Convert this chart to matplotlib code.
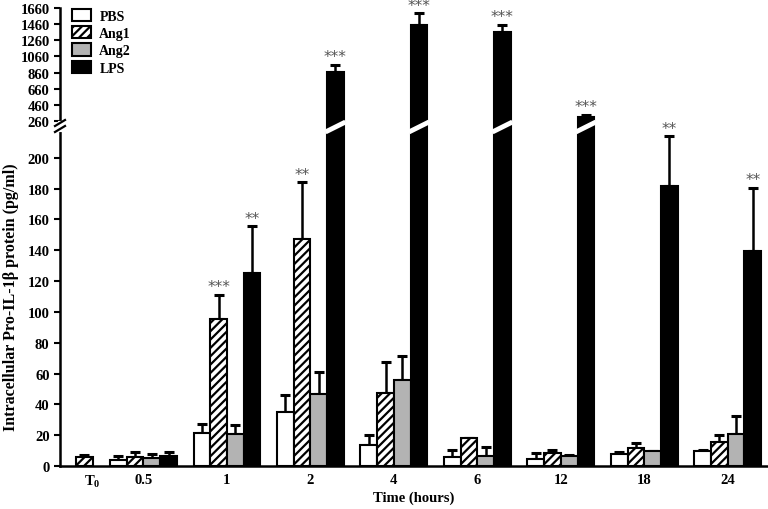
import numpy as np
import matplotlib
matplotlib.use("Agg")
import matplotlib.pyplot as plt
import matplotlib.transforms as mtransforms

plt.rcParams['font.family'] = ['Liberation Serif', 'DejaVu Serif']
plt.rcParams['font.weight'] = 'bold'
plt.rcParams['mathtext.fontset'] = 'custom'
plt.rcParams['mathtext.rm'] = 'Liberation Serif:bold'
plt.rcParams['mathtext.bf'] = 'Liberation Serif:bold'
plt.rcParams['hatch.linewidth'] = 1.6

# data (pg/ml)
times = [r'$\mathbf{T_0}$', '0.5', '1', '2', '4', '6', '12', '18', '24']
nan = np.nan
pbs = [nan, 3.9, 21.2, 34.8, 13.6, 5.6, 4.5, 7.8, 9.5]
pbs_err = [nan, 2.8, 6.1, 11.3, 6.7, 4.8, 3.9, 1.5, 1.1]
ang1 = [6.0, 6.0, 95.5, 147, 47.4, 18.0, 8.4, 11.9, 15.8]
ang1_err = [1.1, 2.9, 15.5, 37, 19.9, 0.4, 2.0, 2.8, 4.5]
ang2 = [nan, 5.2, 20.8, 46.8, 55.8, 6.3, 6.7, 9.5, 20.8]
ang2_err = [nan, 2.6, 6.0, 14.4, 15.8, 6.2, 0.3, 0.4, 11.5]
lps = [nan, 6.7, 125.3, 862, 1452, 1358, 305, 182, 139.6]
lps_err = [nan, 2.2, 30.3, 95, 142, 95, 28, 32, 41]
stars = {('Ang1', 2): '***', ('LPS', 2): '**', ('Ang1', 3): '**',
         ('LPS', 3): '***', ('LPS', 4): '***', ('LPS', 5): '***',
         ('LPS', 6): '***', ('LPS', 7): '**', ('LPS', 8): '**'}

series = [
    ('PBS', pbs, pbs_err, dict(color='white')),
    ('Ang1', ang1, ang1_err, dict(color='white', hatch='////')),
    ('Ang2', ang2, ang2_err, dict(color='#b3b3b3')),
    ('LPS', lps, lps_err, dict(color='black')),
]

W, H = 768, 510
fig = plt.figure(figsize=(W / 100, H / 100), dpi=100)

def px_axes(x0, y_top, x1, y_bot):
    return fig.add_axes([x0 / W, 1 - y_bot / H, (x1 - x0) / W, (y_bot - y_top) / H])

ax_hi = px_axes(60, 9, 767, 128)
ax_lo = px_axes(60, 128, 767, 467)

lo_max = 220
hi_min = 186
ax_lo.set_ylim(0, lo_max)
ax_hi.set_ylim(hi_min, 1660)

x = np.array([0.39, 1, 2, 3, 4, 5, 6, 7, 8])
width = 0.2
offsets = (np.arange(4) - 1.5) * width

for i, (name, vals, errs, style) in enumerate(series):
    vals = np.array(vals, float)
    errs = np.array(errs, float)
    xs = x + offsets[i]
    tops = vals + errs
    for ax in (ax_lo, ax_hi):
        v = vals if ax is ax_lo else np.where(vals > hi_min, vals, nan)
        ax.bar(xs, v, width, edgecolor='black', linewidth=1.5,
               label=name, zorder=2, **style)
        # each error bar goes only in the panel that holds its cap
        sel = tops < lo_max if ax is ax_lo else tops >= lo_max
        ax.errorbar(xs[sel], vals[sel], yerr=[np.zeros(sel.sum()), errs[sel]],
                    fmt='none', ecolor='black', elinewidth=1.8, capsize=3.5,
                    capthick=2.2, zorder=1)

for ax in (ax_lo, ax_hi):
    ax.set_xlim(0, 8.47)
    ax.tick_params(axis='y', direction='out', length=4, width=1.5,
                   labelsize=10.5)
    for s in ('top', 'right'):
        ax.spines[s].set_visible(False)
    ax.spines['left'].set_linewidth(1.8)

ax_lo.set_yticks(np.arange(0, 201, 20))
ax_hi.set_yticks(np.arange(260, 1661, 200))
ax_hi.spines['bottom'].set_visible(False)
ax_hi.set_xticks([])
ax_lo.spines['bottom'].set_linewidth(1.8)
ax_lo.set_xticks(x)
ax_lo.set_xticklabels(times, fontsize=10.5)
ax_lo.tick_params(axis='x', length=0, pad=5)
for ax in (ax_lo, ax_hi):
    plt.setp(ax.get_yticklabels() + ax.get_xticklabels(), fontweight='bold')
ax_lo.set_xlabel('Time (hours)', fontsize=10.5, fontweight='bold', labelpad=1)
ax_lo.set_ylabel('Intracellular Pro-IL-1β protein (pg/ml)', fontsize=11.5,
                 fontweight='bold', labelpad=6)

# significance marks
for i, (name, vals, errs, style) in enumerate(series):
    for j in range(len(x)):
        key = (name, j)
        if key in stars:
            top = vals[j] + errs[j]
            ax = ax_lo if top < lo_max else ax_hi
            ax.annotate(stars[key], (x[j] + offsets[i], top), xytext=(0, 0.5),
                        textcoords='offset points', ha='center', va='bottom',
                        fontsize=11, color='#555555', family='DejaVu Sans',
                        fontweight='normal', annotation_clip=False)

# broken-axis marks on the tall LPS bars
blend = mtransforms.blended_transform_factory(ax_lo.transData, fig.transFigure)
yb = 1 - 128 / H
for j in range(len(x)):
    if lps[j] > lo_max:
        xc = x[j] + offsets[3]
        ax_lo.plot([xc - width / 2 - 0.02, xc + width / 2 + 0.02],
                   [yb - 5 / H, yb + 5 / H], color='white', lw=3.5,
                   transform=blend, clip_on=False, zorder=5,
                   solid_capstyle='butt')

# break symbol on the y axis
ax_lo.plot([60 / W, 60 / W], [1 - 124 / H, 1 - 131 / H], color='white', lw=3,
           transform=fig.transFigure, clip_on=False, zorder=6)
for dy in (0, 6):
    ax_lo.plot([55 / W, 65 / W], [1 - (127 + dy) / H, 1 - (121 + dy) / H],
               color='black', lw=1.6, transform=fig.transFigure,
               clip_on=False, zorder=7)

handles, labels = ax_lo.get_legend_handles_labels()
leg = ax_hi.legend(handles[:4], labels[:4], loc='upper left',
                   bbox_to_anchor=(66 / W, 1 - 4 / H),
                   bbox_transform=fig.transFigure, frameon=False,
                   prop={'size': 10, 'weight': 'bold'}, handlelength=1.4,
                   handleheight=1.0, labelspacing=0.25, handletextpad=0.6,
                   borderaxespad=0)

fig.savefig('out.png', dpi=100)
